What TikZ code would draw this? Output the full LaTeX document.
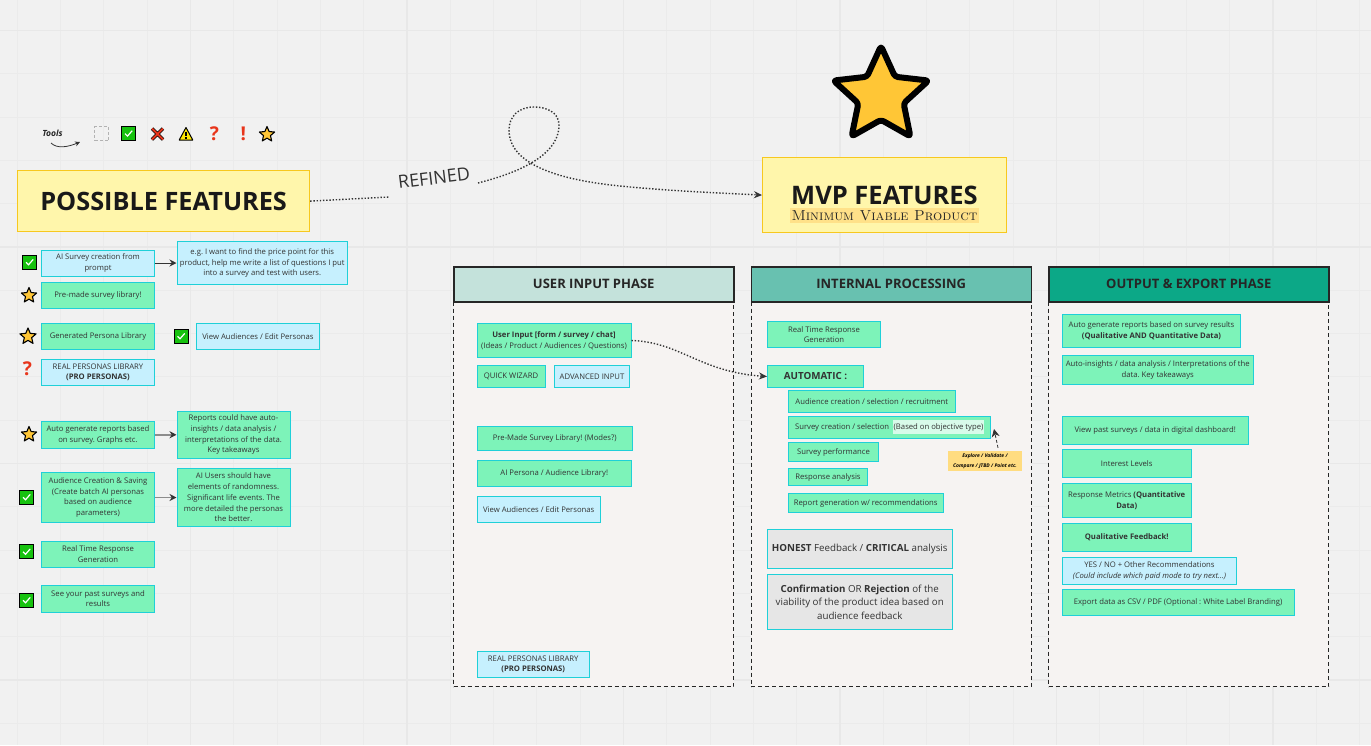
\documentclass[tikz,border=0pt]{standalone}
\usepackage{fontspec}
\setsansfont{Open Sans}
\usepackage{tikz}
\usetikzlibrary{shapes.geometric,arrows.meta,positioning,calc}

\definecolor{canvasbg}{HTML}{F1F1F1}
\definecolor{gridline}{HTML}{EBEBEB}
\definecolor{gridmajor}{HTML}{E8E8E8}
\definecolor{featgreen}{HTML}{7DF3B9}
\definecolor{featblue}{HTML}{C6F0FE}
\definecolor{featgray}{HTML}{E6E6E6}
\definecolor{featedge}{HTML}{1FD0D8}
\definecolor{titlefill}{HTML}{FFF6AB}
\definecolor{titleedge}{HTML}{F7C81F}
\definecolor{bodyfill}{HTML}{F6F3F2}
\definecolor{inkdark}{HTML}{333333}
\definecolor{starfill}{HTML}{FFC636}
\definecolor{notefill}{HTML}{FFDC80}
\definecolor{okgreen}{HTML}{17C20F}
\definecolor{alertred}{HTML}{E8351B}

\newcommand{\boxfont}{\frenchspacing\fontsize{7.7}{10.7}\selectfont}

\begin{document}
\begin{tikzpicture}[
    x=1pt, y=-1pt,
    every node/.style={font=\sffamily},
    wh/.style 2 args={minimum width=#1pt, minimum height=#2pt},
    feat/.style={rectangle, draw=featedge, line width=0.9pt, anchor=north west, inner sep=0pt, outer sep=0.5pt,
                 align=center, font=\sffamily\boxfont, text=inkdark},
    green/.style={feat, fill=featgreen},
    blue/.style={feat, fill=featblue},
    gray/.style={feat, fill=featgray, font=\sffamily\frenchspacing\fontsize{9.75}{13.5}\selectfont},
    title/.style={rectangle, draw=titleedge, fill=titlefill, line width=1.2pt, anchor=north west},
    phasehead/.style={rectangle, draw=black!85, line width=1.5pt, anchor=north west, inner sep=0pt,
                      wh={280}{35}, font=\sffamily\bfseries\fontsize{13}{15}\selectfont, text=black!85},
    phasebody/.style={rectangle, draw=black!85, fill=bodyfill, line width=1pt, anchor=north west,
                      dash pattern=on 4pt off 3pt, wh={280}{385}},
    staricon/.style={star, star points=5, star point ratio=2.2, draw=black, fill=starfill, line width=1.1pt,
                     minimum size=16pt, inner sep=0pt, line join=round},
    marktext/.style={text=alertred, font=\sffamily\bfseries\fontsize{19}{19}\selectfont, inner sep=0pt},
    flow/.style={-{Stealth[length=7pt,width=7pt,color=inkdark]}, line width=1pt, draw=inkdark},
    softflow/.style={flow, draw=gray!90, line width=1.5pt},
    trail/.style={-{Stealth[length=8pt,width=7pt,color=inkdark]}, draw=inkdark, line width=1.4pt,
                  dash pattern=on 1.4pt off 1.8pt},
    checkicon/.pic={
        \path[fill=okgreen, draw=black, line width=1pt] (-7,-7) rectangle (7,7);
        \draw[white, line width=1.2pt] (-3.5,0.3) -- (-1,2.8) -- (3.7,-2.6);
    }
]
    \useasboundingbox (0,0) rectangle (1371,745);
    \fill[canvasbg] (0,0) rectangle (1371,745);

    % Background grid
    \foreach \i in {0,...,31}
        \draw[gridline, line width=1pt] ({17.2+43.3*\i},0) -- ({17.2+43.3*\i},745);
    \foreach \i in {0,...,17}
        \draw[gridline, line width=1pt] (0,{30.5+43.3*\i}) -- (1371,{30.5+43.3*\i});
    \foreach \i in {0,...,5}
        \draw[gridmajor, line width=1.3pt] ({190.4+216.5*\i},0) -- ({190.4+216.5*\i},745);
    \foreach \i in {0,...,3}
        \draw[gridmajor, line width=1.3pt] (0,{30.5+216.5*\i}) -- (1371,{30.5+216.5*\i});

    % Tool palette
    \node[font=\sffamily\bfseries\itshape\fontsize{8.5}{11}\selectfont, text=black!85, inner sep=0pt] (toolslabel) at (52.5,133.5) {Tools};
    \coordinate (toolstip) at (80,142);
    \draw[-{Stealth[length=5pt,width=5pt]}, inkdark, line width=0.8pt] (51,143) .. controls (57,149) and (68,147) .. (toolstip);
    \node[rectangle, draw=black!30, densely dashed, line width=1pt, wh={14}{14}, inner sep=0pt] (toolframe) at (101.8,133.5) {};
    \pic at (128.5,133.3) {checkicon};
    \draw[black, line width=3.4pt] (152,128.5) -- (163,139.5) (163,128.5) -- (152,139.5);
    \draw[alertred, line width=2pt] (152,128.5) -- (163,139.5) (163,128.5) -- (152,139.5);
    \path[fill=yellow!90!orange, draw=black, line width=1pt, line join=round] (186,127.5) -- (192.8,140) -- (179.2,140) -- cycle;
    \draw[black, line width=1.2pt] (186,131.5) -- (186,136) (186,137.3) -- (186,138.8);
    \node[marktext] (toolquestion) at (214.5,134) {?};
    \node[marktext] (toolbang) at (243.3,134) {!};
    \node[staricon] (toolstar) at (267,134.5) {};

    % Possible features column
    \node[title, wh={292}{61}, inner sep=0pt, font=\sffamily\bfseries\fontsize{25.3}{28}\selectfont, text=black!90] (possible) at (17,170) {POSSIBLE FEATURES};

    \node[blue, wh={113}{26}] (aisurvey) at (41,249.5) {AI Survey creation from\\prompt};
    \node[blue, anchor=west, wh={170.5}{43.5}, right=21.5pt of aisurvey] (pricehint) {e.g. I want to find the price point for this\\product, help me write a list of questions I put\\into a survey and test with users.};
    \node[green, wh={113}{26}] (premade) at (41,281.5) {Pre-made survey library!};
    \node[green, wh={113}{26}] (generated) at (41,323) {Generated Persona Library};
    \node[blue, anchor=west, wh={123}{26}, right=41pt of generated] (viewaud) {View Audiences / Edit Personas};
    \node[blue, wh={113}{26.5}] (realpers) at (41,358.5) {REAL PERSONAS LIBRARY\\\textbf{(PRO PERSONAS)}};
    \node[green, wh={113}{26.5}] (autoreport) at (41,421) {Auto generate reports based\\on survey. Graphs etc.};
    \node[green, anchor=west, wh={113}{47}, right=21.5pt of autoreport] (reporthint) {Reports could have auto-\\insights / data analysis /\\interpretations of the data.\\Key takeaways};
    \node[green, wh={113}{50}] (audience) at (41,472) {Audience Creation \& Saving\\(Create batch AI personas\\based on audience\\parameters)};
    \node[green, anchor=west, wh={113}{57.5}, right=21.5pt of audience] (userhint) {AI Users should have\\elements of randomness.\\Significant life events. The\\more detailed the personas\\the better.};
    \node[green, wh={113}{26.5}] (realtime) at (41,540.5) {Real Time Response\\Generation};
    \node[green, wh={113}{26.5}] (pastsurvey) at (41,585) {See your past surveys and\\results};

    \draw[flow] (aisurvey) -- (pricehint);
    \draw[softflow] (autoreport) -- (reporthint);
    \draw[softflow] (audience) -- (userhint);

    % Status marks next to the features
    \foreach \px/\py in {29.5/262, 181/336, 26.5/497, 26.5/551.5, 26.5/600}
        \pic at (\px,\py) {checkicon};
    \node[staricon] (stara) at (29,295.5) {};
    \node[staricon, minimum size=17pt] (starb) at (28,336.5) {};
    \node[staricon] (starc) at (29,434.5) {};
    \node[marktext] (realquestion) at (27.5,369) {?};

    % MVP title
    \node[star, star points=5, star point ratio=2.1, draw=black, fill=starfill, line width=6pt, line join=round,
          minimum size=100pt, inner sep=0pt, rounded corners=3pt] (bigstar) at (881,96) {};
    \node[title, wh={244}{75}] (mvp) at (762,157) {};
    \node[font=\sffamily\bfseries\fontsize{25.5}{28}\selectfont, text=black!90, inner sep=0pt] (mvptitle) at (884.5,195) {MVP FEATURES};
    \node[fill=notefill!80!titlefill, font=\rmfamily\scshape\fontsize{14.5}{15}\selectfont, text=black!85, inner sep=0pt, minimum height=15pt, minimum width=189pt] (mvpsub) at (884.5,215.5) {Minimum Viable Product};

    % Refined link, with its loop
    \node[font=\sffamily\fontsize{18}{20}\selectfont, text=inkdark, rotate=7, inner sep=0pt] (refined) at (434,178) {REFINED};
    \coordinate (refinedin) at (389,197);
    \coordinate (refinedout) at (478,183);
    \draw[trail, -] (possible.east) -- (refinedin);
    \draw[trail] (refinedout) .. controls (505,176) and (559,160) .. (559,125)
        .. controls (559,112) and (546,107) .. (534,107)
        .. controls (518,107) and (509,117) .. (509,130)
        .. controls (509,165) and (560,180) .. (620,186)
        .. controls (670,191) and (720,193) .. (mvp.west);

    % Phase columns
    \node[phasebody] (inputbody) at (453,301) {};
    \node[phasebody] (procbody) at (750.5,301) {};
    \node[phasebody] (outbody) at (1048,301) {};
    \node[phasehead, fill={rgb,255:red,196;green,226;blue,219}] (inputhead) at (453,266) {USER INPUT PHASE};
    \node[phasehead, fill={rgb,255:red,104;green,193;blue,176}] (prochead) at (750.5,266) {INTERNAL PROCESSING};
    \node[phasehead, fill={rgb,255:red,12;green,168;blue,135}] (outhead) at (1048,266) {OUTPUT \& EXPORT PHASE};

    % User input phase
    \node[green, wh={154}{34}] (userinput) at (476.5,323) {\textbf{User Input [form / survey / chat]}\\(Ideas / Product / Audiences / Questions)};
    \node[green, wh={68}{22}] (wizard) at (476.5,365) {QUICK WIZARD};
    \node[blue, anchor=west, wh={75}{22}, right=8.5pt of wizard] (advanced) {ADVANCED INPUT};
    \node[green, wh={155.5}{24}] (surveylib) at (476.5,426) {Pre-Made Survey Library! (Modes?)};
    \node[green, wh={154.5}{26}] (personalib) at (476.5,460) {AI Persona / Audience Library!};
    \node[blue, wh={123.5}{26}] (editpers) at (476.5,496) {View Audiences / Edit Personas};
    \node[blue, wh={112.5}{26.5}] (prolib) at (476.5,650.5) {REAL PERSONAS LIBRARY\\\textbf{(PRO PERSONAS)}};

    % Internal processing phase
    \node[green, wh={113}{26}] (rtgen) at (767,321) {Real Time Response\\Generation};
    \node[green, wh={96}{22}, font=\sffamily\bfseries\fontsize{9.8}{11}\selectfont] (automatic) at (767,365) {AUTOMATIC :};
    \node[green, wh={166.5}{22}] (audsel) at (788,390) {Audience creation / selection / recruitment};
    \node[green, wh={202}{21.5}] (survsel) at (788,416) {Survey creation / selection \ \colorbox{white!70!featgreen}{\hspace{-2.5pt}\rule[-2pt]{0pt}{7pt}(Based on objective type)\hspace{-2.5pt}}};
    \node[green, wh={90}{19}] (survperf) at (788,442) {Survey performance};
    \node[green, wh={79}{17}] (respan) at (788,468) {Response analysis};
    \node[green, wh={154.5}{19}] (recomm) at (788,493) {Report generation w/ recommendations};
    \node[gray, wh={184.5}{39}] (honest) at (767,528.5) {\textbf{HONEST} Feedback / \textbf{CRITICAL} analysis};
    \node[gray, wh={184.5}{55}] (confirm) at (767,574) {\textbf{Confirmation} OR \textbf{Rejection} of the\\viability of the product idea based on\\audience feedback};
    \node[fill=notefill, font=\sffamily\bfseries\itshape\frenchspacing\fontsize{5}{9.5}\selectfont, text=black, align=center, inner sep=0pt, wh={74}{20}] (typenote) at (985,461) {Explore / Validate /\\Compare / JTBD / Point etc.};
    \coordinate (typetip) at (994,429);
    \draw[-{Stealth[length=8pt,width=8pt]}, inkdark, line width=0.8pt, densely dashed] ($(typenote.north)+(13,-3)$) -- (typetip);
    \draw[trail] (userinput.east) .. controls (680,342) and (700,372) .. (automatic.west);

    % Output and export phase
    \node[green, wh={178}{33}] (genreport) at (1062,314) {Auto generate reports based on survey results\\\textbf{(Qualitative AND Quantitative Data)}};
    \node[green, wh={190.5}{29}] (insights) at (1062,355) {Auto-insights / data analysis / Interpretations of the\\data. Key takeaways};
    \node[green, wh={185.5}{27.5}] (dashboard) at (1062,416) {View past surveys / data in digital dashboard!};
    \node[green, wh={128.5}{27.5}] (interest) at (1062,449) {Interest Levels};
    \node[green, wh={128.5}{34}] (metrics) at (1062,483) {Response Metrics \textbf{(Quantitative}\\\textbf{Data)}};
    \node[green, wh={128.5}{28}] (qualfb) at (1062,523) {\textbf{Qualitative Feedback!}};
    \node[blue, wh={174}{27}] (yesno) at (1062,557) {YES / NO + Other Recommendations\\\textit{(Could include which paid mode to try next...)}};
    \node[green, wh={232}{26.5}] (exportcsv) at (1061.5,588.5) {Export data as CSV / PDF (Optional : White Label Branding)};
\end{tikzpicture}
\end{document}
